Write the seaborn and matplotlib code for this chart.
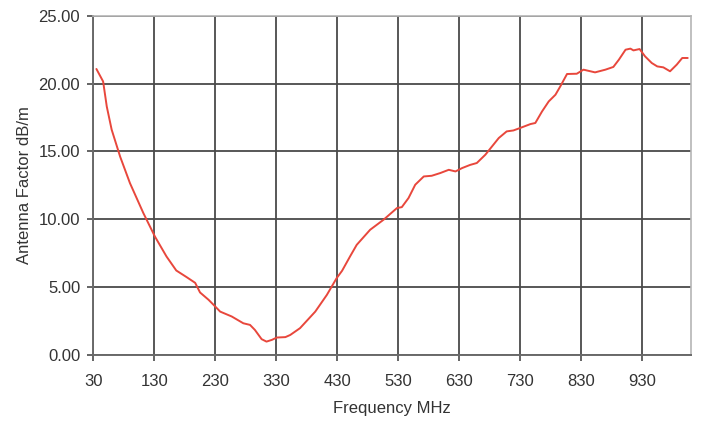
import matplotlib
matplotlib.use("Agg")
import matplotlib.pyplot as plt
import seaborn as sns
import pandas as pd
from matplotlib.ticker import FormatStrFormatter

freq_mhz = [35, 46, 52, 60, 74, 90, 112, 131, 150, 166, 183, 197, 205, 219, 230, 238,
            257, 276, 287, 295, 306, 314, 323, 331, 345, 353, 369, 394, 413, 429, 438,
            451, 462, 484, 506, 528, 536, 547, 558, 572, 585, 599, 613, 624, 635, 648,
            659, 673, 695, 708, 719, 730, 747, 755, 766, 777, 788, 796, 807, 823, 834,
            853, 870, 883, 892, 903, 911, 916, 926, 935, 946, 955, 965, 976, 987, 996, 1005]
antenna_factor = [21.07, 20.15, 18.3, 16.6, 14.6, 12.66, 10.45, 8.72, 7.25, 6.22, 5.73, 5.31,
                  4.6, 4.06, 3.56, 3.19, 2.83, 2.33, 2.21, 1.84, 1.16, 0.98, 1.11, 1.28, 1.31,
                  1.47, 1.97, 3.19, 4.42, 5.65, 6.2, 7.25, 8.11, 9.22, 9.96, 10.82, 10.89,
                  11.56, 12.54, 13.15, 13.2, 13.4, 13.64, 13.52, 13.77, 14.0, 14.14, 14.75,
                  15.98, 16.47, 16.54, 16.72, 17.01, 17.09, 17.94, 18.68, 19.17, 19.79, 20.7,
                  20.72, 21.02, 20.82, 21.02, 21.22, 21.75, 22.49, 22.57, 22.44, 22.54, 22.0,
                  21.51, 21.26, 21.19, 20.9, 21.39, 21.88, 21.88]
x_ticks = [30, 130, 230, 330, 430, 530, 630, 730, 830, 930]
y_ticks = [0, 5, 10, 15, 20, 25]

sns.set_style("white")
plt.rcParams['font.family'] = ['Liberation Sans', 'DejaVu Sans']

df = pd.DataFrame({"Frequency MHz": freq_mhz, "Antenna Factor dB/m": antenna_factor})

fig = plt.figure(figsize=(7.02, 4.23), dpi=100)
ax = fig.add_axes([0.133, 0.161, 0.984 - 0.133, 0.963 - 0.161])
sns.lineplot(data=df, x="Frequency MHz", y="Antenna Factor dB/m", ax=ax,
             color="#e8473c", linewidth=1.4)

ax.set_xlim(30, 1010)
ax.set_ylim(0, 25)
ax.set_xticks(x_ticks)
ax.set_yticks(y_ticks)
ax.yaxis.set_major_formatter(FormatStrFormatter("%.2f"))
ax.grid(True, color="#4a4a4a", linewidth=1.3)
ax.set_axisbelow(True)
for side in ["top", "right"]:
    ax.spines[side].set_color("#b5b5b5")
    ax.spines[side].set_linewidth(1.2)
for side in ["left", "bottom"]:
    ax.spines[side].set_color("#6a6a6a")
    ax.spines[side].set_linewidth(1.4)
ax.tick_params(axis="both", which="both", direction="out", length=4.5, width=1.2,
               color="#4a4a4a", labelsize=12, labelcolor="#333333",
               bottom=True, left=True)
ax.tick_params(axis="x", pad=9)
ax.tick_params(axis="y", pad=5)
ax.set_xlabel("Frequency MHz", fontsize=12, color="#333333", labelpad=9)
ax.set_ylabel("Antenna Factor dB/m", fontsize=12, color="#333333", labelpad=5)

fig.savefig("out.png", dpi=100)
